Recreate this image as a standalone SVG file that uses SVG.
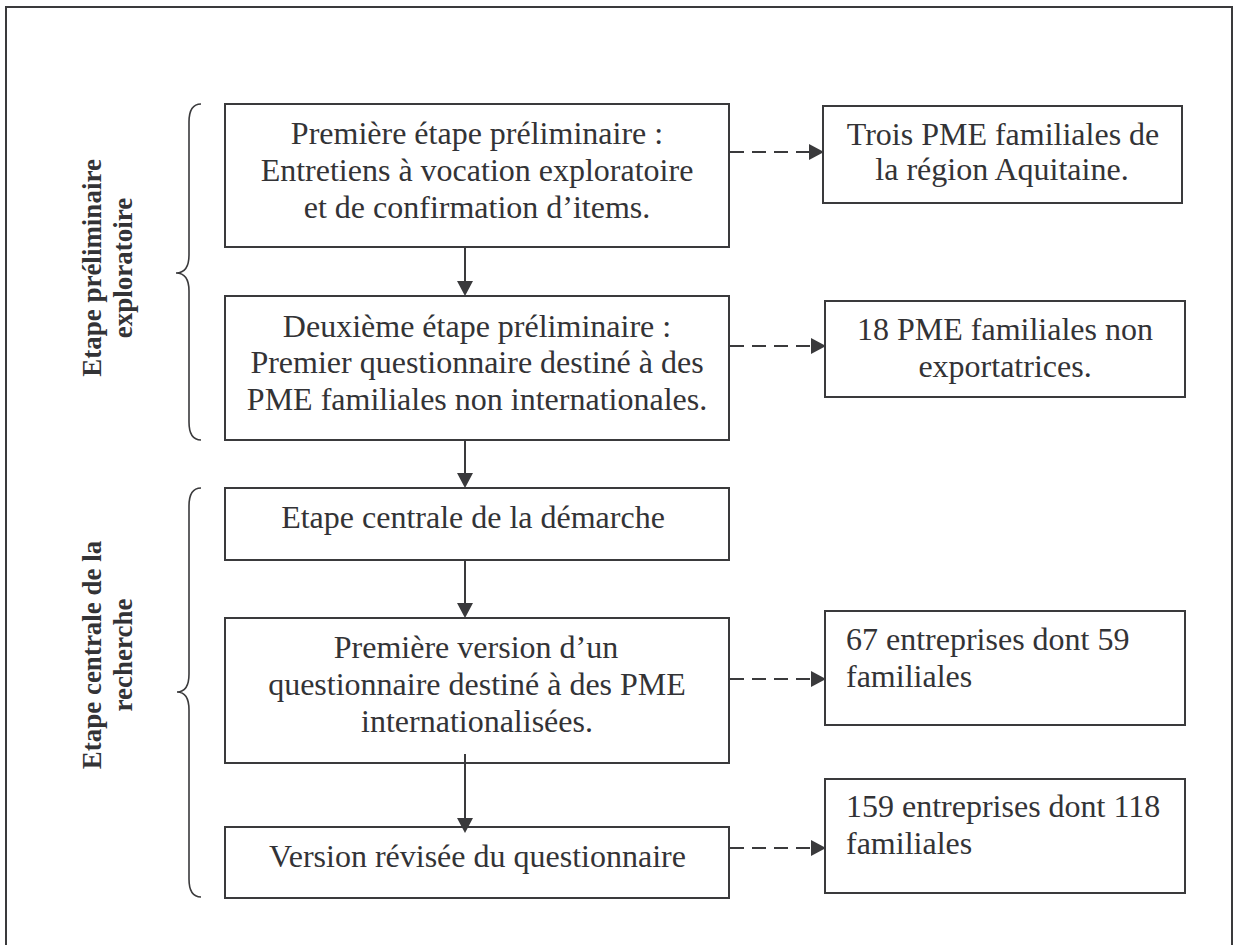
<svg xmlns="http://www.w3.org/2000/svg" width="1235" height="945" viewBox="0 0 1235 945">
<style>
.box{fill:#fff;stroke:#3a3a3c;stroke-width:2}
.t{font-family:"Liberation Serif","Times New Roman",serif;font-size:32px;fill:#333336}
.c{text-anchor:middle}
.lbl{font-family:"Liberation Serif","Times New Roman",serif;font-size:27px;font-weight:bold;fill:#333336;text-anchor:middle}
.ln{stroke:#3a3a3c;stroke-width:2;fill:none}
.dash{stroke:#3a3a3c;stroke-width:2;fill:none;stroke-dasharray:14 8}
.brace{stroke:#3a3a3c;stroke-width:1.6;fill:none}
</style>
<defs>
<marker id="ah" markerUnits="userSpaceOnUse" markerWidth="15" markerHeight="16" refX="0" refY="8" orient="auto">
<path d="M0,0 L15,8 L0,16 z" fill="#3a3a3c"/>
</marker>
</defs>
<rect x="0" y="0" width="1235" height="945" fill="#fff"/>
<rect id="frame" x="6" y="7" width="1226" height="980" fill="none" stroke="#3a3a3c" stroke-width="2"/>

<g id="braces">
<path class="brace" d="M201,104 C193,104 189,110 189,122 L189,255 C189,267 185,273 176,273 C185,273 189,279 189,291 L189,422 C189,434 193,440 201,440"/>
<path class="brace" d="M201,488 C193,488 189,494 189,506 L189,674 C189,686 185,692 177,692 C185,692 189,698 189,710 L189,879 C189,891 193,897 201,897"/>
</g>

<g id="label1">
<text class="lbl" transform="translate(101,268) rotate(-90)"><tspan x="0" y="0">Etape préliminaire</tspan><tspan x="0" y="31">exploratoire</tspan></text>
</g>
<g id="label2">
<text class="lbl" transform="translate(101,655) rotate(-90)"><tspan x="0" y="0">Etape centrale de la</tspan><tspan x="0" y="31">recherche</tspan></text>
</g>

<g id="nodeA">
<rect class="box" x="225" y="104" width="504" height="143"/>
<text class="t c"><tspan x="477" y="144">Première étape préliminaire :</tspan><tspan x="477" y="181">Entretiens à vocation exploratoire</tspan><tspan x="477" y="217.5">et de confirmation d’items.</tspan></text>
</g>
<g id="nodeB">
<rect class="box" x="225" y="296" width="504" height="144"/>
<text class="t c"><tspan x="477" y="337">Deuxième étape préliminaire :</tspan><tspan x="477" y="373">Premier questionnaire destiné à des</tspan><tspan x="477" y="410">PME familiales non internationales.</tspan></text>
</g>
<g id="nodeC">
<rect class="box" x="225" y="488" width="504" height="72"/>
<text class="t c" x="473" y="528">Etape centrale de la démarche</text>
</g>
<g id="nodeD">
<rect class="box" x="225" y="618" width="504" height="145"/>
<text class="t c"><tspan x="476" y="658">Première version d’un</tspan><tspan x="477" y="695">questionnaire destiné à des PME</tspan><tspan x="477" y="731.5">internationalisées.</tspan></text>
</g>
<g id="nodeE">
<rect class="box" x="225" y="827" width="504" height="71"/>
<text class="t c" x="477.5" y="866.5">Version révisée du questionnaire</text>
</g>

<g id="nodeR1">
<rect class="box" x="823" y="106" width="359" height="97"/>
<text class="t c"><tspan x="1003" y="145">Trois PME familiales de</tspan><tspan x="1002" y="180">la région Aquitaine.</tspan></text>
</g>
<g id="nodeR2">
<rect class="box" x="825" y="301" width="360" height="96"/>
<text class="t c"><tspan x="1005" y="340">18 PME familiales non</tspan><tspan x="1005" y="376.5">exportatrices.</tspan></text>
</g>
<g id="nodeR3">
<rect class="box" x="825" y="611" width="360" height="114"/>
<text class="t"><tspan x="846" y="650">67 entreprises dont 59</tspan><tspan x="846" y="686.5">familiales</tspan></text>
</g>
<g id="nodeR4">
<rect class="box" x="825" y="779" width="360" height="114"/>
<text class="t"><tspan x="846" y="817">159 entreprises dont 118</tspan><tspan x="846" y="854">familiales</tspan></text>
</g>

<g id="connectors">
<line class="ln" x1="465" y1="247" x2="465" y2="281" marker-end="url(#ah)"/>
<line class="ln" x1="465" y1="440" x2="465" y2="473" marker-end="url(#ah)"/>
<line class="ln" x1="465" y1="560" x2="465" y2="603" marker-end="url(#ah)"/>
<line class="ln" x1="465" y1="754" x2="465" y2="818" marker-end="url(#ah)"/>
<line class="dash" x1="730" y1="152" x2="809" y2="152" marker-end="url(#ah)"/>
<line class="dash" x1="730" y1="346" x2="811" y2="346" marker-end="url(#ah)"/>
<line class="dash" x1="730" y1="679" x2="811" y2="679" marker-end="url(#ah)"/>
<line class="dash" x1="730" y1="848" x2="811" y2="848" marker-end="url(#ah)"/>
</g>
</svg>
